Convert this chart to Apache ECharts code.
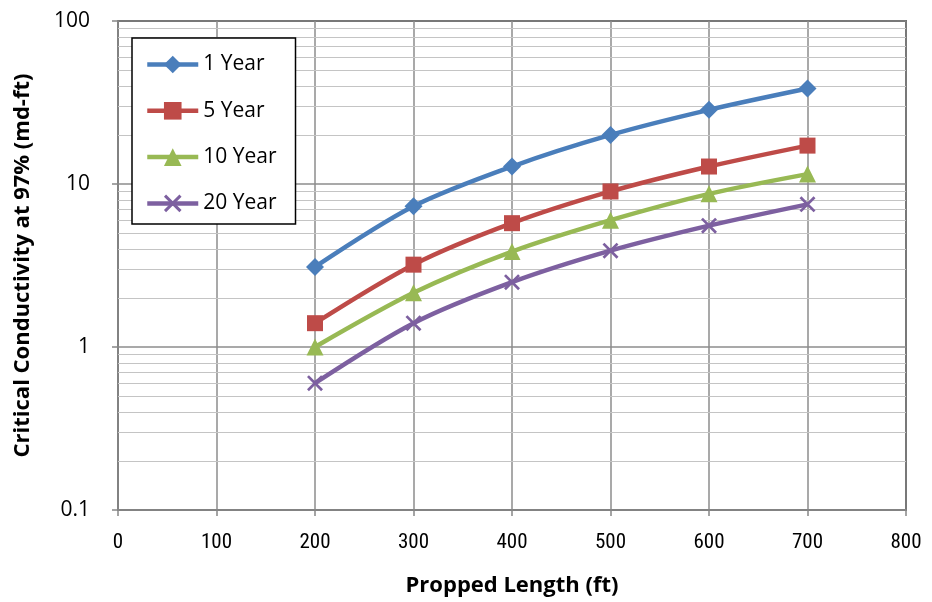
<!DOCTYPE html>
<html>
<head>
<meta charset="utf-8">
<script src="https://cdn.jsdelivr.net/npm/echarts@6/dist/echarts.min.js"></script>
<style>
  html, body { margin: 0; padding: 0; background: #fff; }
  #chart { width: 932px; height: 602px; }
</style>
</head>
<body>
<div id="chart"></div>
<script>
// Propped fracture length (ft)
const lengths = [200, 300, 400, 500, 600, 700];

// Critical conductivity at 97% (md-ft) by production period
const year1  = [3.1, 7.3, 12.8, 20.0, 28.5, 38.5];
const year5  = [1.4, 3.2, 5.75, 9.0, 12.8, 17.2];
const year10 = [1.0, 2.15, 3.85, 6.0, 8.7, 11.5];
const year20 = [0.6, 1.4, 2.5, 3.9, 5.55, 7.5];

const seriesNames = ['1 Year', '5 Year', '10 Year', '20 Year'];

// Axis ranges
const xMin = 0, xMax = 800, xStep = 100;
const yMin = 0.1, yMax = 100;

// Minor gridline values inside each decade (2..9 x decade)
const minorGridValues = [
  0.2, 0.3, 0.4, 0.5, 0.6, 0.7, 0.8, 0.9,
  2, 3, 4, 5, 6, 7, 8, 9,
  20, 30, 40, 50, 60, 70, 80, 90
];

const narrowFont = '"Roboto Condensed", "DejaVu Sans Condensed", "Liberation Sans Narrow", "Open Sans", sans-serif';
const colors = ['#4a7ebb', '#be4b48', '#98b954', '#7d60a0'];
const crossPath = 'path://M0,1.2L1.2,0L10,8.8L8.8,10Z M8.8,0L10,1.2L1.2,10L0,8.8Z';
const symbols = ['diamond', 'rect', 'triangle', crossPath];
const symbolSizes = [18, 16, 17, 16];
const values = [year1, year5, year10, year20];

const chart = echarts.init(document.getElementById('chart'));

const series = values.map((vals, i) => ({
  name: seriesNames[i],
  type: 'line',
  data: lengths.map((x, j) => [x, vals[j]]),
  smooth: 0.3,
  symbol: symbols[i],
  symbolSize: symbolSizes[i],
  z: 5 + i,
  lineStyle: { color: colors[i], width: 4.5 },
  itemStyle: { color: colors[i] },
  emphasis: { disabled: true }
}));

// Minor horizontal gridlines drawn on the log scale
series.push({
  name: 'minor-grid',
  type: 'line',
  data: [],
  silent: true,
  z: 1,
  markLine: {
    silent: true,
    z: 1,
    symbol: ['none', 'none'],
    label: { show: false },
    lineStyle: { color: '#c4c4c4', width: 1.2, type: 'solid' },
    animation: false,
    data: minorGridValues.map(v => ({ yAxis: v }))
  }
});

chart.setOption({
  animation: false,
  backgroundColor: '#ffffff',
  grid: {
    left: 118, right: 26, top: 21, bottom: 92,
    outerBoundsMode: 'none',
    containLabel: false,
    show: true, borderColor: '#000', borderWidth: 1.5, backgroundColor: 'transparent'
  },
  legend: {
    data: seriesNames,
    orient: 'vertical',
    left: 132, top: 38,
    z: 20,
    padding: [16, 19, 10, 13],
    itemWidth: 51, itemHeight: 22, itemGap: 25.3,
    backgroundColor: '#fff',
    borderColor: '#000', borderWidth: 1.5, borderRadius: 0,
    lineStyle: { width: 4.5 },
    textStyle: { fontFamily: 'Open Sans', fontSize: 21, color: '#000', padding: [0, 0, 0, 0] }
  },
  xAxis: {
    type: 'value',
    min: xMin, max: xMax, interval: xStep,
    name: 'Propped Length (ft)',
    nameLocation: 'middle',
    nameGap: 65,
    nameTextStyle: { fontFamily: 'Open Sans', fontWeight: 'bold', fontSize: 22, color: '#000' },
    axisLine: { lineStyle: { color: '#868686', width: 1.5 } },
    axisTick: { show: true, inside: false, length: 6, lineStyle: { color: '#868686', width: 1.5 } },
    axisLabel: { fontFamily: narrowFont, fontSize: 21, color: '#000', margin: 22 },
    splitLine: { show: true, lineStyle: { color: '#8c8c8c', width: 1.5 } }
  },
  yAxis: {
    type: 'log',
    logBase: 10,
    min: yMin, max: yMax,
    name: 'Critical Conductivity at 97% (md-ft)',
    nameLocation: 'middle',
    nameGap: 84,
    nameTextStyle: { fontFamily: 'Open Sans', fontWeight: 'bold', fontSize: 22, color: '#000' },
    axisLine: { show: true, lineStyle: { color: '#868686', width: 1.5 } },
    axisTick: { show: true, inside: false, length: 6, lineStyle: { color: '#868686', width: 1.5 } },
    axisLabel: {
      fontFamily: 'Open Sans', fontSize: 21, color: '#000', margin: 28,
      formatter: v => String(+v.toPrecision(6))
    },
    splitLine: { show: true, lineStyle: { color: '#8c8c8c', width: 1.5 } }
  },
  series: series
});
</script>
</body>
</html>
